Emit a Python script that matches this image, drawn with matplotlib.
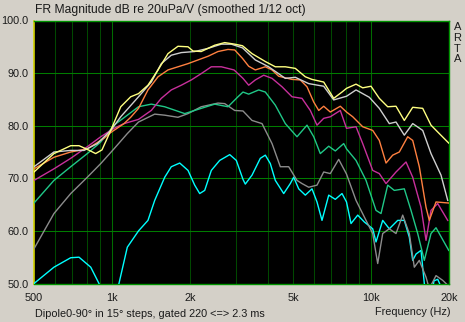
import numpy as np
import matplotlib
matplotlib.use("Agg")
import matplotlib.pyplot as plt

plt.rcParams["font.family"] = ["Liberation Sans", "DejaVu Sans"]

# ---- data (freq in Hz, level in dB) ----
f_0 = [500, 597, 693, 746, 803, 865, 915, 989, 1081, 1181, 1266, 1377, 1506, 1645,
       1798, 1966, 2055, 2210, 2492, 2724, 2977, 3190, 3472, 3908, 4271, 4668, 5101,
       5576, 5918, 6567, 7177, 7726, 8042, 8752, 9288, 10000, 10764, 11599, 12487,
       13443, 14486, 15833, 17044, 18347, 19950]
db_0 = [71.2, 74.7, 76.2, 76.2, 75.5, 74.7, 75.4, 79.1, 83.6, 85.5, 86.1, 87.7, 90.6, 93.7,
        95.1, 95.0, 94.2, 94.1, 95.3, 95.8, 95.5, 95.2, 93.7, 92.2, 91.2, 91.2, 90.9,
        89.3, 88.8, 88.3, 85.2, 86.4, 87.1, 87.9, 87.2, 87.5, 85.2, 83.6, 83.7,
        81.0, 83.5, 83.3, 80.1, 78.5, 76.7]

f_15 = [500, 597, 693, 780, 878, 989, 1081, 1266, 1418, 1550, 1694, 1852, 2086, 2348,
        2643, 2889, 3190, 3575, 4027, 4668, 5101, 5748, 6567, 7177, 8042, 8752, 9850,
        10764, 11765, 12487, 13443, 14486, 15833, 17044, 18628, 19773]
db_15 = [72.2, 75.0, 75.3, 75.3, 76.6, 79.1, 81.7, 85.5, 88.3, 91.8, 93.4, 93.9, 94.1, 94.7,
         95.5, 95.5, 94.8, 92.5, 91.2, 89.0, 89.2, 88.0, 87.5, 84.9, 85.6, 86.8, 85.4,
         83.3, 80.4, 80.7, 78.2, 80.4, 79.1, 74.7, 70.6, 65.8]

f_30 = [500, 597, 693, 803, 931, 989, 1113, 1181, 1266, 1377, 1506, 1645, 1798, 1966,
        2148, 2348, 2566, 2805, 2977, 3190, 3371, 3575, 3908, 4148, 4402, 4954, 5333,
        5661, 6009, 6282, 6567, 6963, 7611, 8042, 8499, 9288, 10151, 10764, 11426,
        12125, 12859, 13856, 14486, 15362, 16305, 16787, 17819, 19950]
db_30 = [71.8, 74.0, 75.0, 75.6, 77.6, 78.7, 80.4, 81.6, 83.3, 86.8, 89.3, 90.6, 91.2, 91.8,
         92.5, 93.2, 94.1, 94.5, 94.4, 92.8, 91.3, 90.6, 91.2, 90.6, 89.4, 88.8, 88.7,
         87.4, 84.5, 82.9, 83.7, 82.6, 83.7, 82.6, 81.7, 79.8, 79.1, 77.2, 72.9,
         74.4, 75.0, 77.9, 77.2, 72.2, 64.5, 62.0, 65.5, 65.3]

f_45 = [500, 597, 693, 803, 905, 1018, 1113, 1266, 1418, 1550, 1694, 1852, 2024, 2210,
        2418, 2643, 2959, 3204, 3371, 3575, 3852, 4148, 4534, 4954, 5414, 5829, 6187,
        6567, 6963, 7611, 8042, 8752, 9288, 10151, 10764, 11426, 12487, 13649, 14486,
        15597, 16305, 17044, 18087, 19773]
db_45 = [69.6, 71.8, 73.8, 76.0, 77.9, 79.5, 80.4, 81.2, 82.9, 85.2, 86.8, 87.7, 88.7, 89.9,
         91.2, 91.2, 90.6, 89.0, 87.7, 88.7, 89.6, 89.0, 87.4, 85.5, 85.2, 82.9, 80.1,
         81.4, 81.7, 82.9, 79.5, 79.8, 76.6, 71.5, 70.9, 69.0, 71.2, 73.1, 70.2,
         64.5, 58.2, 63.9, 65.2, 62.0]

f_60 = [500, 597, 693, 803, 905, 1018, 1146, 1266, 1418, 1598, 1909, 2148, 2492, 2805,
        3065, 3204, 3371, 3685, 3908, 4271, 4668, 5179, 5661, 6009, 6371, 6866, 7280,
        7844, 8042, 8752, 9565, 10454, 10929, 11599, 12299, 13443, 14269, 15144, 16059,
        17044, 17819, 19950]
db_60 = [65.3, 69.6, 72.2, 74.7, 76.9, 80.1, 82.0, 83.6, 84.1, 83.6, 82.3, 83.1, 84.1, 83.6,
         85.5, 86.4, 86.0, 86.8, 86.4, 83.9, 80.4, 77.9, 80.1, 77.9, 74.7, 76.1, 75.2,
         76.6, 75.6, 73.4, 69.6, 63.9, 63.3, 68.7, 67.7, 68.0, 63.9, 59.5, 54.4,
         59.5, 60.6, 56.3]

f_75 = [500, 597, 693, 803, 905, 1018, 1146, 1266, 1462, 1598, 1798, 1966, 2210, 2566,
        2724, 2977, 3204, 3472, 3795, 4148, 4465, 4811, 5179, 5414, 5748, 6187, 6567,
        6963, 7503, 8042, 8752, 9565, 10151, 10612, 11095, 11765, 12487, 13253, 14054,
        14694, 15362, 16305, 16787, 17819, 18911, 19950]
db_75 = [56.6, 63.3, 67.1, 70.2, 72.8, 75.6, 78.5, 80.7, 82.2, 82.0, 81.6, 82.3, 83.6, 84.3,
         84.2, 82.9, 82.8, 81.0, 80.4, 76.6, 72.2, 72.2, 69.6, 69.0, 68.3, 68.7, 71.2,
         70.9, 73.6, 70.8, 65.8, 62.0, 59.5, 53.8, 59.5, 60.4, 59.5, 63.0, 59.5,
         53.1, 54.4, 51.2, 49.0, 51.5, 50.6, 49.5]

f_90 = [500, 597, 693, 746, 828, 891, 930, 1000, 1040, 1064, 1146, 1266, 1377, 1462,
        1598, 1694, 1826, 1966, 2086, 2181, 2280, 2418, 2605, 2848, 3020, 3204, 3271,
        3472, 3738, 3908, 4085, 4271, 4602, 4880, 5029, 5258, 5576, 5918, 6187, 6468,
        6866, 7280, 7726, 8042, 8371, 8885, 9421, 10151, 10454, 11095, 11765, 12677,
        13443, 14054, 14486, 14919, 15597, 16059, 16500, 17000, 17500, 18087, 18400,
        19000, 20000]
db_90 = [50.0, 53.1, 54.9, 55.0, 53.1, 50.0, 47.0, 44.0, 47.0, 50.0, 56.9, 60.0, 62.0, 65.8,
         70.2, 72.2, 72.9, 71.5, 68.7, 67.1, 67.7, 71.5, 73.4, 74.5, 73.4, 69.8, 68.9,
         70.6, 73.8, 74.4, 72.8, 69.6, 67.1, 69.0, 70.2, 68.0, 66.8, 68.0, 65.5, 62.0,
         66.8, 66.0, 67.1, 65.5, 61.4, 63.0, 61.7, 60.4, 57.9, 62.0, 60.4, 62.0,
         62.0, 58.8, 54.4, 55.6, 56.3, 50.0, 46.0, 47.0, 50.5, 50.8, 50.0,
         47.0, 46.0]

curves = [(f_90, db_90, "#00ffff"), (f_75, db_75, "#8c8c8c"), (f_60, db_60, "#20c888"),
          (f_45, db_45, "#c8309c"), (f_30, db_30, "#ff8040"), (f_15, db_15, "#cfcfcf"),
          (f_0, db_0, "#ffff80")]

xticks = [500, 1000, 2000, 5000, 10000, 20000]
xlabels = ["500", "1k", "2k", "5k", "10k", "20k"]
yticks = [50, 60, 70, 80, 90, 100]
vgrid = [600, 700, 800, 900, 1000, 2000, 3000, 4000, 5000, 6000, 7000, 8000, 9000, 10000]

fig = plt.figure(figsize=(4.65, 3.22), dpi=100, facecolor="#d4d0c8")
ax = fig.add_axes([34 / 465, 1 - 283.5 / 322, 415 / 465, 263 / 322])
ax.set_facecolor("black")
ax.set_xscale("log")
ax.set_xlim(500, 20000)
ax.set_ylim(50, 100)

# grid: dark green verticals, brighter horizontals
for v in vgrid:
    c = "#006c00" if v in (1000, 10000) else "#004800"
    ax.axvline(v, color=c, lw=0.75, zorder=1)
for h in yticks[1:-1]:
    ax.axhline(h, color="#007c00", lw=0.75, zorder=1)

for f, d, c in curves:
    ax.plot(f, d, color=c, lw=1.0, zorder=3)

for s in ["top", "right", "bottom"]:
    ax.spines[s].set_color("#009400")
    ax.spines[s].set_linewidth(1.0)
ax.spines["left"].set_color("#d0d000")
ax.spines["left"].set_linewidth(1.2)

ax.xaxis.set_minor_locator(matplotlib.ticker.NullLocator())
ax.set_xticks(xticks)
ax.set_xticklabels(xlabels)
ax.set_yticks(yticks)
ax.set_yticklabels([f"{y:.1f}" for y in yticks])
ax.tick_params(axis="both", length=0, labelsize=7.8, colors="#1a1a1a")
ax.tick_params(axis="x", pad=7)
ax.tick_params(axis="y", pad=4)

fig.text(35 / 465, 1 - 10 / 322, "FR Magnitude dB re 20uPa/V (smoothed 1/12 oct)",
         fontsize=8.7, va="center", ha="left", color="#1a1a1a")
fig.text(35 / 465, 1 - 314 / 322, "Dipole0-90\u00b0 in 15\u00b0 steps, gated 220 <=> 2.3 ms",
         fontsize=7.8, va="center", ha="left", color="#1a1a1a")
fig.text(450 / 465, 1 - 312 / 322, "Frequency (Hz)", fontsize=7.8, va="center",
         ha="right", color="#1a1a1a")
fig.text(457.5 / 465, 1 - 22 / 322, "A\nR\nT\nA", fontsize=8, va="top", ha="center",
         linespacing=1.1, color="#1a1a1a")

fig.savefig("out.png", dpi=100, facecolor=fig.get_facecolor())
